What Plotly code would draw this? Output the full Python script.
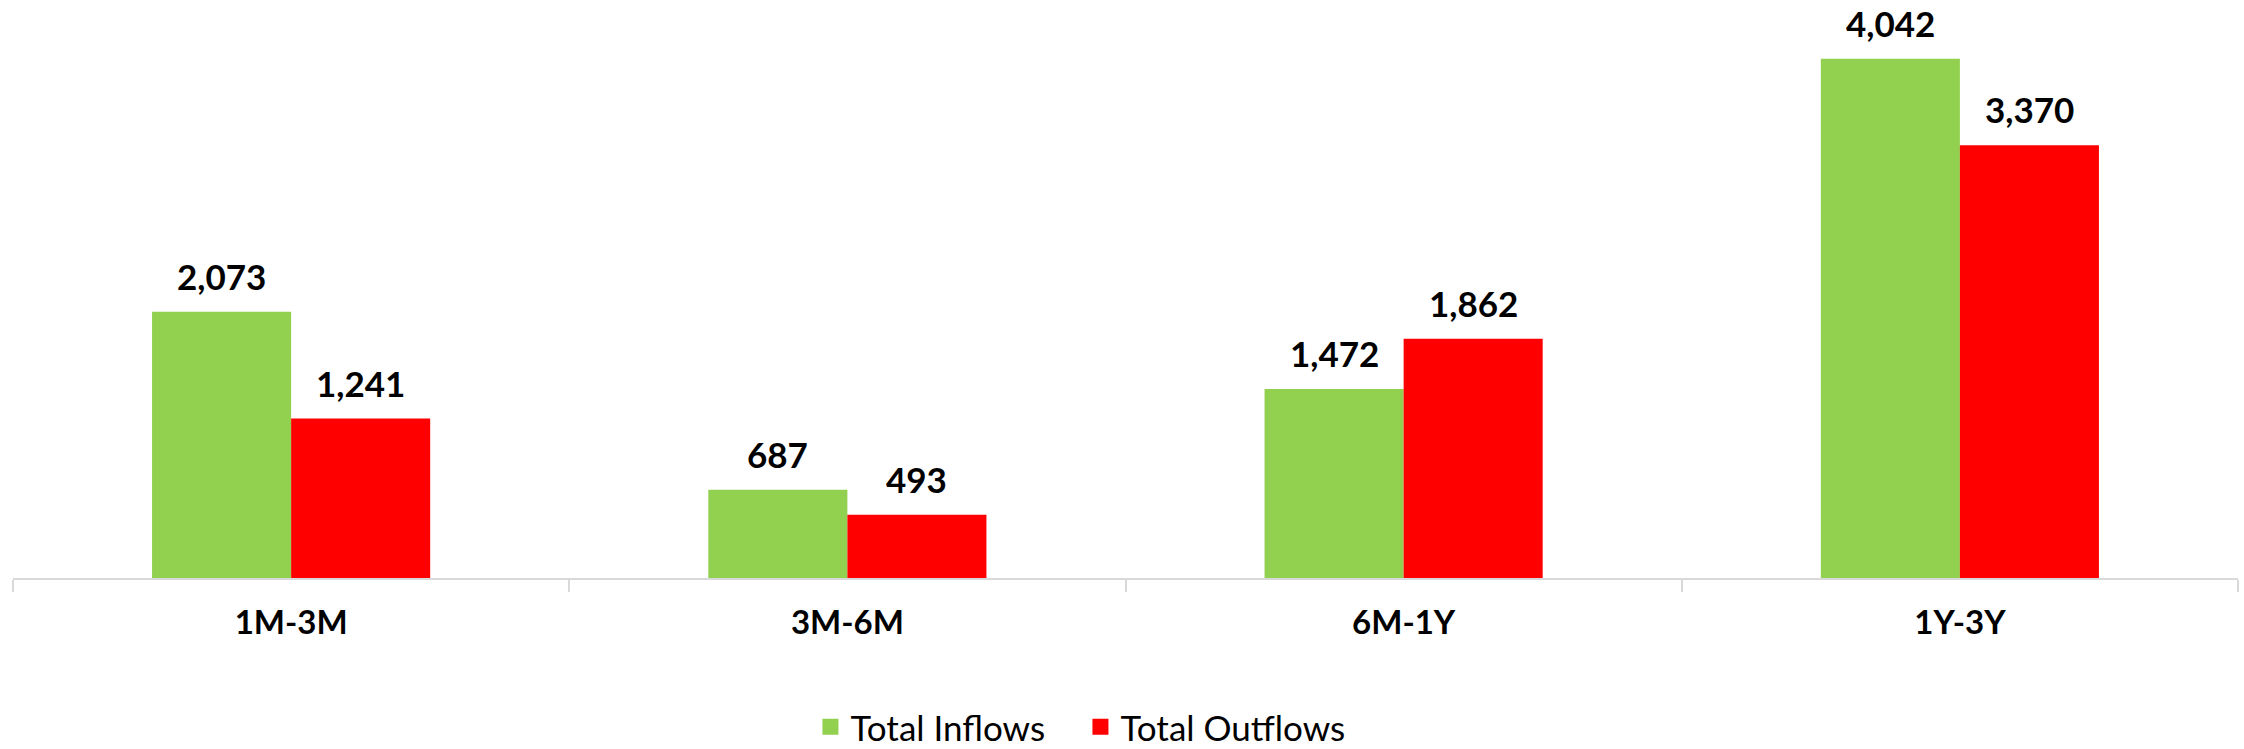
import plotly.graph_objects as go

categories = ["1M-3M", "3M-6M", "6M-1Y", "1Y-3Y"]
inflows = [2073, 687, 1472, 4042]
outflows = [1241, 493, 1862, 3370]
series_names = ["Total Inflows", "Total Outflows"]
colors = ["#92D050", "#FF0000"]

W, H = 2244, 749
ML, MR, MT, MB = 13, 6, 0, 171
FONT = "Lato"

fig = go.Figure()
for name, vals, col in zip(series_names, [inflows, outflows], colors):
    fig.add_trace(go.Bar(
        x=categories, y=vals, name=name, marker_color=col,
        marker_line_width=0, showlegend=False,
    ))
    # legend proxy with larger swatch
    fig.add_trace(go.Scatter(
        x=[None], y=[None], mode="markers", name=name,
        marker=dict(symbol="square", size=16, color=col),
    ))

plot_w = W - ML - MR
cat_w = plot_w / len(categories)
shift = cat_w * 0.125
annotations = []
for vals, xs in [(inflows, -shift), (outflows, shift)]:
    for c, v in zip(categories, vals):
        annotations.append(dict(
            x=c, y=v, xref="x", yref="y", text=f"{v:,}",
            showarrow=False, yanchor="bottom", xshift=xs, yshift=13,
            font=dict(family=FONT, size=35, color="black", weight="bold"),
        ))

fig.update_layout(
    width=W, height=H,
    margin=dict(l=ML, r=MR, t=MT, b=MB, autoexpand=False),
    paper_bgcolor="white", plot_bgcolor="white",
    barmode="group", bargap=0.5, bargroupgap=0,
    annotations=annotations,
    font=dict(family=FONT, color="black"),
    legend=dict(
        orientation="h", x=0.3584, xanchor="left", y=-0.258, yanchor="middle",
        font=dict(family=FONT, size=35, color="black"),
        itemwidth=30, tracegroupgap=0, entrywidth=225,
    ),
    xaxis=dict(
        showline=True, linecolor="#d9d9d9", linewidth=2,
        ticks="outside", ticklen=12, tickcolor="#d9d9d9", tickwidth=2,
        tickson="boundaries", ticklabelstandoff=14, automargin=False,
        tickfont=dict(family=FONT, size=33, color="black", weight="bold"),
        showgrid=False, zeroline=False,
    ),
    yaxis=dict(
        range=[0, 4500], visible=False, showgrid=False, zeroline=False,
        automargin=False,
    ),
)

fig.write_html(
    "out.html",
    config={"displayModeBar": False},
    post_script="document.body.style.margin='0';",
)
